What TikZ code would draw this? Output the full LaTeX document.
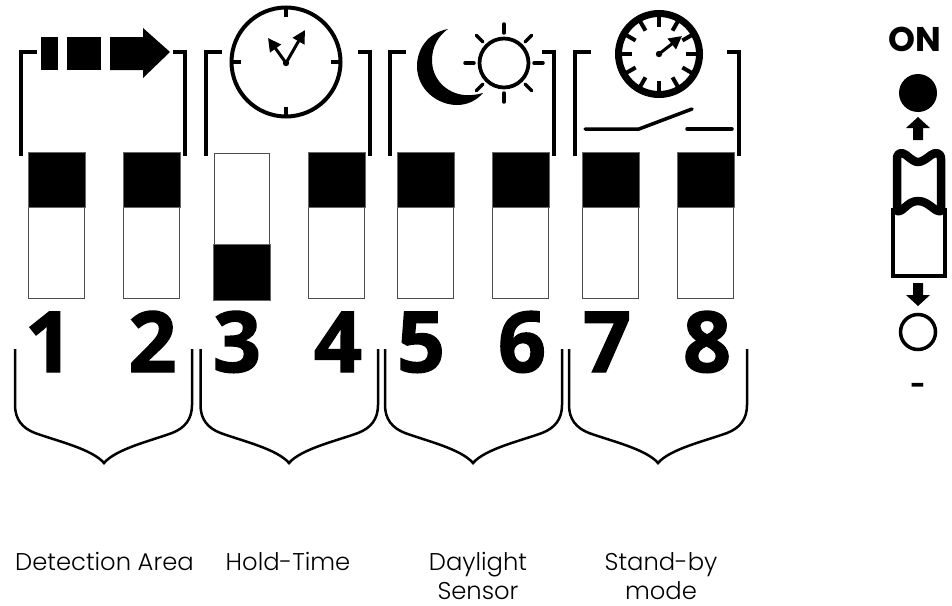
\documentclass[tikz,border=0pt]{standalone}
\usepackage{fontspec}
\setmainfont{Poppins}
\newfontfamily\capfont{Poppins Light}
\newfontfamily\digitfont[BoldFeatures={FakeBold=1.6}]{Open Sans}
\usetikzlibrary{calc,arrows.meta}
\tikzset{
  blackbox/.style={fill=black,draw=black!60,line width=0.1mm},
  whitebox/.style={fill=white,draw=black!70,line width=0.2mm},
  bracket/.style={line width=0.7mm},
  curlybrace/.style={line width=0.5mm},
  iconline/.style={line width=0.7mm,line cap=round},
  digit/.style={font=\digitfont\fontsize{48}{48}\selectfont\bfseries,inner sep=0pt},
  caption/.style={font=\capfont\fontsize{13.8}{16.5}\selectfont,align=center,inner sep=0pt,anchor=base},
  handarrow/.style={line width=0.6mm,-{Triangle[length=2.6mm,width=2.6mm]}}
}

\begin{document}
\begin{tikzpicture}[x=0.02cm,y=-0.02cm]
  \useasboundingbox (0,0) rectangle (952,605);
  % dip switches
  \foreach \sw/\xa/\xb in {1/28/85, 2/123/180, 4/308/365, 5/397/454, 6/492/549, 7/582/639, 8/677/734}{
    \draw[whitebox] (\xa+0.5,207) rectangle (\xb-0.5,298);
    \filldraw[blackbox] (\xa,152) rectangle (\xb,207);
  }
  \draw[whitebox] (214,153) rectangle (269,298);
  \filldraw[blackbox] (213,244) rectangle (270,300);
  % numbers
  \foreach \n/\x in {1/49, 2/152.5, 3/237, 4/338, 5/421, 6/522, 7/607, 8/707}{
    \node[digit,anchor=base] (num\n) at (\x,372) {\n};
  }
  % top brackets
  \foreach \xl/\xr in {21/185, 206/370, 390/554, 575/739}{
    \draw[bracket] (\xl,156) -- (\xl,52) -- (\xl+16,52);
    \draw[bracket] (\xr,156) -- (\xr,52) -- (\xr-12,52);
  }
  % bottom braces
  \foreach \xl/\xm/\xr in {15/104/192, 200.5/289/378, 385/473/562, 569/658/747}{
    \draw[curlybrace] (\xl,349) -- (\xl,405)
      .. controls (\xl,419) and (\xl+7,428) .. (\xl+20,433)
      .. controls (\xl+42,441) and (\xm-12,449) .. (\xm,463)
      .. controls (\xm+12,449) and (\xr-42,441) .. (\xr-20,433)
      .. controls (\xr-7,428) and (\xr,419) .. (\xr,405) -- (\xr,349);
  }
  % area icon
  \fill (41,37) rectangle (58,70);
  \fill (67,37) rectangle (101,70);
  \fill (110,37) -- (143,37) -- (143,28) -- (170,52) -- (143,78) -- (143,70) -- (110,70) -- cycle;
  % clock icon
  \draw[line width=0.8mm] (286,62) circle (54.5);
  \foreach \ang in {0,90,180,270}{
    \draw[line width=0.7mm] (286,62) ++(\ang:45) -- ++(\ang:10);
  }
  \fill (286,63) circle (3.2);
  \draw[handarrow] (286,63) -- (305,30);
  \draw[handarrow] (286,63) -- (268,38);
  % moon and sun
  \fill (448,29) .. controls (427,33) and (417,50) .. (417,66)
    .. controls (417,90) and (438,105) .. (457,105)
    .. controls (468,105) and (477,100) .. (483,93)
    .. controls (476,95) and (470,95.5) .. (464,95)
    .. controls (446,93) and (432,79) .. (432,60)
    .. controls (432,47) and (438,36) .. (448,29) -- cycle;
  \draw[line width=0.75mm] (504,63) circle (24.5);
  \foreach \ang in {0,45,...,315}{
    \draw[iconline] (504,63) ++(\ang:30) -- ++(\ang:9);
  }
  % gauge icon
  \draw[line width=1.4mm] (659,54) circle (40.5);
  \foreach \ang in {0,30,...,330}{
    \draw[line width=0.8mm] (659,54) ++(\ang:27) -- ++(\ang:11);
  }
  \fill (659,54) circle (3.2);
  \draw[handarrow] (659,54) -- (682,36);
  % open contact
  \draw[iconline,line join=round] (585,129) -- (639,129) -- (692,109);
  \draw[iconline] (687,129) -- (732,129);
  % captions
  \node[caption] (area) at (104.5,570) {Detection Area};
  \node[caption] (hold) at (288,570) {Hold-Time};
  \node[caption] (day) at (478,599) {Daylight\\Sensor};
  \node[caption] (standby) at (661,599) {Stand-by\\mode};
  % legend
  \node[font=\fontsize{19.5}{19.5}\selectfont\bfseries,inner sep=0pt,anchor=base] (on) at (914.5,51) {ON};
  \fill (918,93) circle (19);
  \fill (918,117) -- (930,128) -- (923,128) -- (923,140) -- (913,140) -- (913,128) -- (906,128) -- cycle;
  \draw[line width=0.8mm] (893,208) -- (893,275.5) -- (944.5,275.5) -- (944.5,208);
  \draw[line width=1.7mm,line join=round,line cap=round] (897,211) -- (897,159)
    .. controls (897,152) and (902,152) .. (906,155)
    .. controls (912,160) and (915,162) .. (918,162)
    .. controls (921,162) and (925,160) .. (931,155)
    .. controls (935,152) and (941,152) .. (941,159) -- (941,211)
    .. controls (935,213) and (929,201) .. (918,201)
    .. controls (907,201) and (903,213) .. (897,211);
  \fill (918,306) -- (930,295) -- (923,295) -- (923,283) -- (913,283) -- (913,295) -- (906,295) -- cycle;
  \draw[line width=0.7mm] (918,332) circle (17.5);
  \node[font=\fontsize{15}{15}\selectfont\bfseries,inner sep=0pt] (off) at (918,389) {-};
\end{tikzpicture}
\end{document}
